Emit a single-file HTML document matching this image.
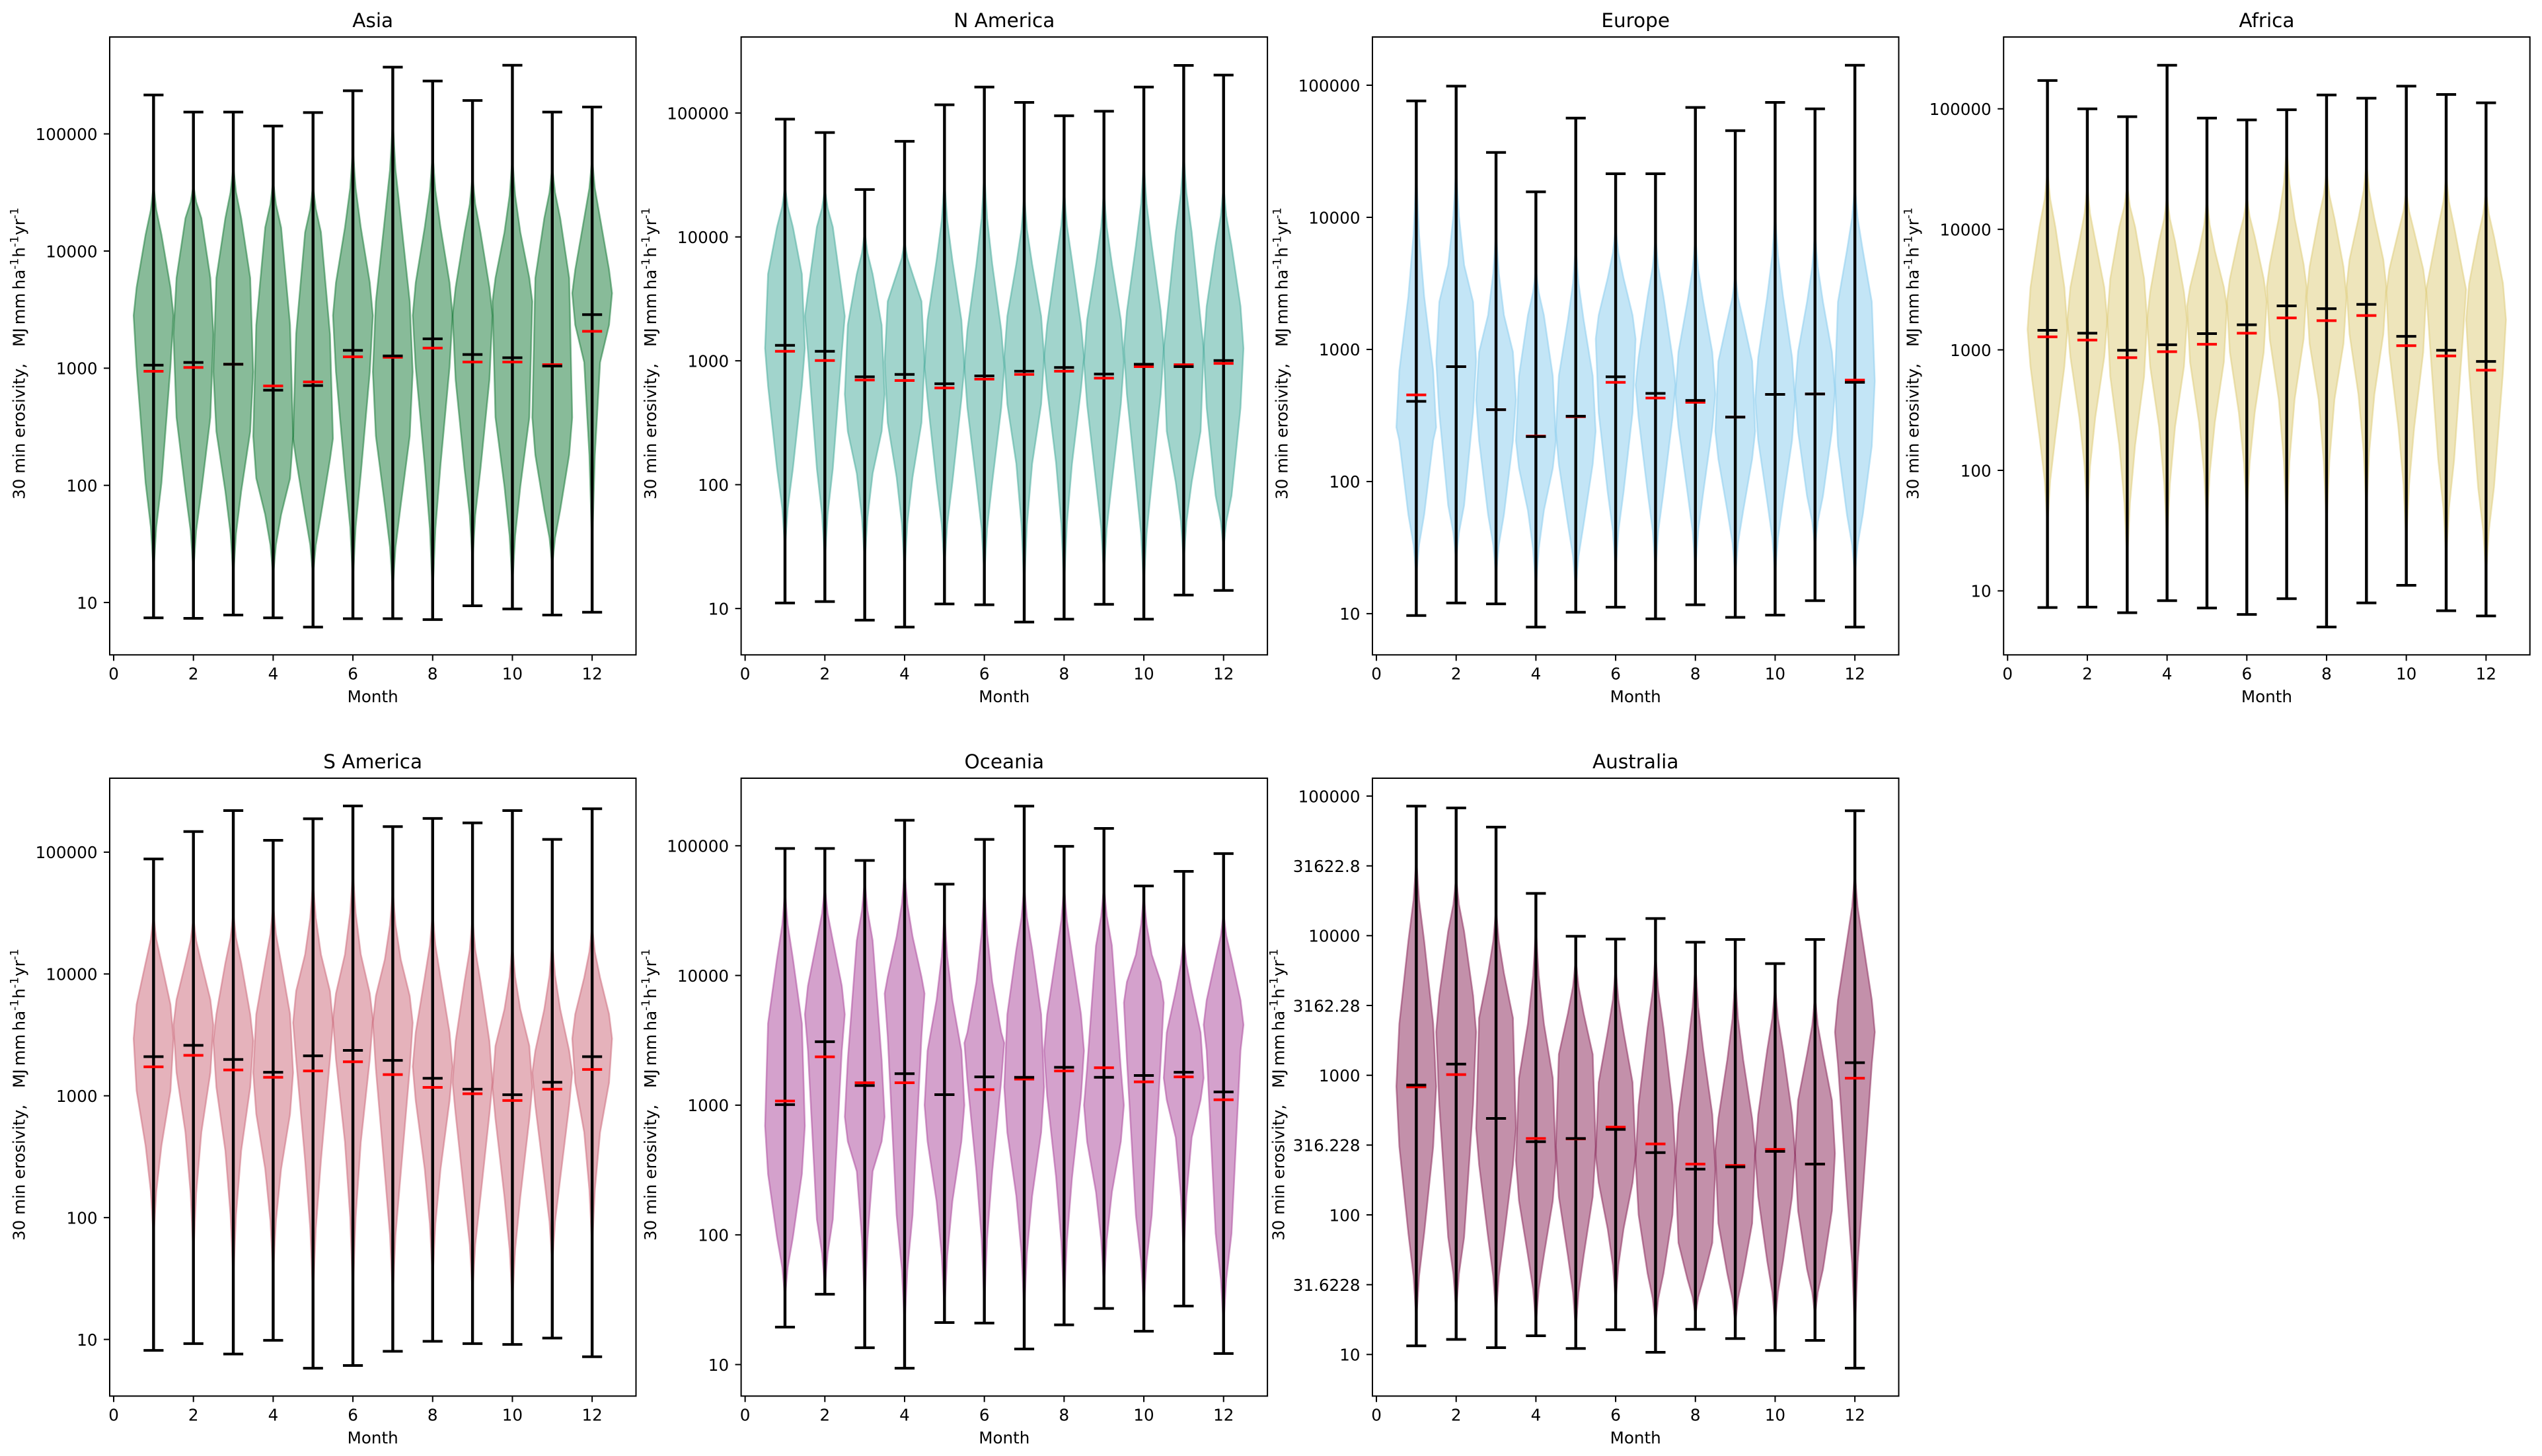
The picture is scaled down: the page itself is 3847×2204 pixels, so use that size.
<!DOCTYPE html>
<html lang="en">
<head>
<meta charset="utf-8">
<title>30 min erosivity by month and continent</title>
<style>
html,body{margin:0;padding:0;background:#fff;}
svg{display:block;}
text{font-family:"DejaVu Sans","Liberation Sans",sans-serif;fill:#000;}
.title{font-size:29.5px;text-anchor:middle;}
.xl{font-size:24.6px;text-anchor:middle;}
.yl{font-size:24.6px;}
.yl .s{font-size:17.2px;}
.tick{font-size:24.6px;}
</style>
</head>
<body>
<svg id="chart" xmlns="http://www.w3.org/2000/svg" width="3847" height="2204" viewBox="0 0 3847 2204">
<rect width="3847" height="2204" fill="#fff"/>

<g id="panel-asia">
<text class="title" x="564.2" y="41">Asia</text>
<text class="xl" x="564.2" y="1063">Month</text>
<text class="yl" transform="translate(37.5,756) rotate(-90)">30 min erosivity,<tspan dx="25">MJ</tspan><tspan dx="5">mm</tspan><tspan dx="5">ha</tspan><tspan class="s" dy="-10">-1</tspan><tspan dx="1" dy="10">h</tspan><tspan class="s" dy="-10">-1</tspan><tspan dx="1" dy="10">yr</tspan><tspan class="s" dy="-10">-1</tspan></text>
</g>
<g id="panel-namerica">
<text class="title" x="1519.8" y="41">N America</text>
<text class="xl" x="1519.8" y="1063">Month</text>
<text class="yl" transform="translate(993.1,756) rotate(-90)">30 min erosivity,<tspan dx="25">MJ</tspan><tspan dx="5">mm</tspan><tspan dx="5">ha</tspan><tspan class="s" dy="-10">-1</tspan><tspan dx="1" dy="10">h</tspan><tspan class="s" dy="-10">-1</tspan><tspan dx="1" dy="10">yr</tspan><tspan class="s" dy="-10">-1</tspan></text>
</g>
<g id="panel-europe">
<text class="title" x="2475.2" y="41">Europe</text>
<text class="xl" x="2475.2" y="1063">Month</text>
<text class="yl" transform="translate(1948.5,756) rotate(-90)">30 min erosivity,<tspan dx="25">MJ</tspan><tspan dx="5">mm</tspan><tspan dx="5">ha</tspan><tspan class="s" dy="-10">-1</tspan><tspan dx="1" dy="10">h</tspan><tspan class="s" dy="-10">-1</tspan><tspan dx="1" dy="10">yr</tspan><tspan class="s" dy="-10">-1</tspan></text>
</g>
<g id="panel-africa">
<text class="title" x="3430.4" y="41">Africa</text>
<text class="xl" x="3430.4" y="1063">Month</text>
<text class="yl" transform="translate(2903.7,756) rotate(-90)">30 min erosivity,<tspan dx="25">MJ</tspan><tspan dx="5">mm</tspan><tspan dx="5">ha</tspan><tspan class="s" dy="-10">-1</tspan><tspan dx="1" dy="10">h</tspan><tspan class="s" dy="-10">-1</tspan><tspan dx="1" dy="10">yr</tspan><tspan class="s" dy="-10">-1</tspan></text>
</g>
<g id="panel-samerica">
<text class="title" x="564.2" y="1163">S America</text>
<text class="xl" x="564.2" y="2185">Month</text>
<text class="yl" transform="translate(37.5,1878) rotate(-90)">30 min erosivity,<tspan dx="25">MJ</tspan><tspan dx="5">mm</tspan><tspan dx="5">ha</tspan><tspan class="s" dy="-10">-1</tspan><tspan dx="1" dy="10">h</tspan><tspan class="s" dy="-10">-1</tspan><tspan dx="1" dy="10">yr</tspan><tspan class="s" dy="-10">-1</tspan></text>
</g>
<g id="panel-oceania">
<text class="title" x="1519.8" y="1163">Oceania</text>
<text class="xl" x="1519.8" y="2185">Month</text>
<text class="yl" transform="translate(993.1,1878) rotate(-90)">30 min erosivity,<tspan dx="25">MJ</tspan><tspan dx="5">mm</tspan><tspan dx="5">ha</tspan><tspan class="s" dy="-10">-1</tspan><tspan dx="1" dy="10">h</tspan><tspan class="s" dy="-10">-1</tspan><tspan dx="1" dy="10">yr</tspan><tspan class="s" dy="-10">-1</tspan></text>
</g>
<g id="panel-australia">
<text class="title" x="2475.2" y="1163">Australia</text>
<text class="xl" x="2475.2" y="2185">Month</text>
<text class="yl" transform="translate(1943.5,1878) rotate(-90)">30 min erosivity,<tspan dx="25">MJ</tspan><tspan dx="5">mm</tspan><tspan dx="5">ha</tspan><tspan class="s" dy="-10">-1</tspan><tspan dx="1" dy="10">h</tspan><tspan class="s" dy="-10">-1</tspan><tspan dx="1" dy="10">yr</tspan><tspan class="s" dy="-10">-1</tspan></text>
</g>
</svg>

<script>
// All y data are log10(erosivity).
const months = [1,2,3,4,5,6,7,8,9,10,11,12];
const xTicks = [0,2,4,6,8,10,12];
const xTickLabels = ["0","2","4","6","8","10","12"];
const decadeTicks = [1,2,3,4,5];
const decadeLabels = ["10","100","1000","10000","100000"];
const halfDecadeTicks = [1,1.5,2,2.5,3,3.5,4,4.5,5];
const halfDecadeLabels = ["10","31.6228","100","316.228","1000","3162.28","10000","31622.8","100000"];
// Relative density reached at each of the seven shape knots of a violin.
const densityLevels = [0,0.4,0.85,1,0.85,0.4,0];

const asiaMax = [5.332,5.186,5.186,5.067,5.182,5.368,5.570,5.451,5.285,5.586,5.186,5.229];
const asiaMin = [0.869,0.865,0.893,0.869,0.790,0.862,0.862,0.854,0.972,0.945,0.893,0.917];
const asiaMean = [3.026,3.049,3.034,2.812,2.852,3.152,3.105,3.251,3.117,3.089,3.018,3.457];
const asiaMedian = [2.974,3.006,3.034,2.848,2.883,3.097,3.093,3.172,3.053,3.053,3.030,3.315];
const asiaShape = [
[4.56,4.14,3.69,3.45,3.01,2.02,1.27],[4.56,4.28,3.77,3.29,2.58,1.95,1.27],[4.72,4.28,3.77,2.97,2.46,1.95,1.23],
[4.60,4.20,3.37,2.42,2.06,1.75,1.23],[4.56,4.16,3.29,2.40,2.22,1.75,1.23],[4.87,4.20,3.73,3.45,2.97,2.10,1.19],
[5.11,4.28,3.57,2.97,2.42,1.83,1.11],[4.83,4.20,3.73,3.45,3.01,2.18,1.08],[4.64,4.16,3.69,3.45,2.90,2.14,1.35],
[4.79,4.16,3.77,3.57,2.58,1.99,1.15],[4.72,4.28,3.77,2.58,2.26,1.79,1.31],[4.79,4.28,3.84,3.64,3.37,3.05,1.47]];

const naMax = [4.951,4.843,4.383,4.772,5.067,5.210,5.086,4.978,5.015,5.210,5.385,5.307];
const naMin = [1.045,1.056,0.906,0.850,1.037,1.030,0.891,0.914,1.034,0.914,1.109,1.146];
const naMean = [3.125,3.077,2.871,2.890,2.815,2.878,2.916,2.946,2.893,2.972,2.953,3.002];
const naMedian = [3.077,3.002,2.845,2.841,2.781,2.852,2.890,2.916,2.860,2.953,2.968,2.979];
const naShape = [
[4.41,4.08,3.70,3.10,2.80,2.13,1.49],[4.39,4.08,3.55,3.36,3.07,2.13,1.38],[4.04,3.70,3.29,2.73,2.43,2.09,1.38],
[3.96,3.70,3.48,2.99,2.50,2.06,1.31],[4.45,3.81,3.33,2.95,2.69,2.02,1.34],[4.52,3.78,3.25,2.95,2.62,2.02,1.27],
[4.34,3.78,3.36,3.03,2.65,2.17,1.19],[4.38,3.81,3.29,3.03,2.77,2.17,1.19],[4.38,3.78,3.33,2.99,2.65,2.02,1.27],
[4.60,3.93,3.40,3.10,2.73,2.02,1.19],[4.67,4.04,3.33,3.10,2.43,2.02,1.38],[4.41,3.93,3.44,3.10,2.62,1.91,1.49]];

const euMax = [4.881,4.993,4.491,4.193,4.751,4.330,4.330,4.832,4.656,4.870,4.821,5.151];
const euMin = [0.986,1.081,1.074,0.898,1.011,1.049,0.961,1.067,0.972,0.989,1.098,0.898];
const euMean = [2.607,2.870,2.544,2.340,2.495,2.793,2.667,2.614,2.488,2.660,2.663,2.751];
const euMedian = [2.656,2.870,2.544,2.344,2.491,2.751,2.632,2.600,2.488,2.660,2.663,2.768];
const euShape = [
[4.34,3.40,2.84,2.41,2.31,1.75,1.29],[4.38,3.64,3.36,2.91,2.52,1.82,1.40],[3.89,3.26,2.98,2.62,2.31,1.75,1.29],
[3.61,3.26,2.80,2.31,2.10,1.78,1.19],[3.78,3.22,2.80,2.38,2.13,1.68,1.19],[3.92,3.54,3.26,3.08,2.52,1.92,1.33],
[3.85,3.40,2.94,2.73,2.48,1.92,1.33],[3.85,3.36,2.98,2.66,2.41,1.92,1.33],[3.57,3.22,2.91,2.38,2.17,1.78,1.29],
[4.03,3.40,2.94,2.62,2.31,1.85,1.29],[3.89,3.36,2.98,2.69,2.38,1.89,1.50],[4.24,3.75,3.36,2.76,2.27,1.75,1.29]];

const afMax = [5.235,5.000,4.935,5.362,4.923,4.908,4.992,5.115,5.088,5.188,5.119,5.050];
const afMin = [0.862,0.865,0.819,0.919,0.858,0.804,0.935,0.700,0.900,1.046,0.835,0.792];
const afMean = [3.162,3.138,2.996,3.042,3.135,3.208,3.365,3.342,3.377,3.112,2.996,2.904];
const afMedian = [3.108,3.081,2.935,2.985,3.046,3.138,3.265,3.242,3.285,3.035,2.950,2.831];
const afShape = [
[4.48,4.02,3.52,3.17,2.86,2.28,1.55],[4.36,3.90,3.52,3.25,2.94,2.44,1.63],[4.36,4.02,3.59,3.25,2.78,2.21,1.25],
[4.28,3.90,3.48,3.25,2.86,2.36,1.40],[4.25,3.82,3.52,3.36,2.90,2.40,1.55],[4.28,3.94,3.59,3.40,2.98,2.48,1.63],
[4.67,4.09,3.71,3.52,3.09,2.59,1.55],[4.48,4.09,3.69,3.44,3.05,2.59,1.55],[4.55,4.09,3.75,3.52,3.13,2.63,1.67],
[4.32,3.98,3.67,3.48,2.98,2.36,1.40],[4.44,4.02,3.63,3.50,3.13,2.09,1.28],[4.32,3.94,3.55,3.25,2.82,1.86,1.13]];

const saMax = [4.944,5.169,5.341,5.097,5.274,5.379,5.210,5.277,5.240,5.341,5.105,5.356];
const saMin = [0.910,0.966,0.880,0.993,0.764,0.786,0.903,0.985,0.966,0.959,1.011,0.858];
const saMean = [3.321,3.414,3.298,3.193,3.328,3.373,3.291,3.144,3.054,3.009,3.111,3.321];
const saMedian = [3.238,3.332,3.212,3.152,3.204,3.279,3.174,3.069,3.017,2.961,3.054,3.216];
const saShape = [
[4.48,4.09,3.75,3.47,3.04,2.59,1.84],[4.46,4.09,3.79,3.58,3.19,2.70,1.69],[4.50,4.09,3.67,3.45,3.07,2.55,1.50],
[4.57,4.09,3.67,3.19,2.85,2.40,1.54],[4.76,4.16,3.86,3.60,3.30,2.47,1.35],[4.84,4.16,3.84,3.63,3.30,2.62,1.39],
[4.69,4.12,3.82,3.60,3.22,2.36,1.35],[4.50,3.97,3.52,3.24,2.96,2.40,1.50],[4.46,3.94,3.45,3.11,2.85,2.17,1.39],
[4.24,3.71,3.41,3.07,2.81,2.17,1.31],[4.27,3.71,3.37,3.19,2.92,2.32,1.61],[4.39,3.97,3.67,3.47,3.11,2.70,1.76]];

const ocMax = [4.979,4.979,4.887,5.197,4.704,5.049,5.306,4.996,5.134,4.690,4.803,4.940];
const ocMin = [1.289,1.542,1.130,0.972,1.324,1.320,1.120,1.306,1.433,1.257,1.451,1.085];
const ocMean = [3.004,3.489,3.151,3.243,3.081,3.218,3.215,3.292,3.215,3.229,3.254,3.102];
const ocMedian = [3.032,3.373,3.173,3.173,3.081,3.120,3.201,3.264,3.289,3.180,3.218,3.042];
const ocShape = [
[4.65,4.13,3.63,2.84,2.47,1.98,1.52],[4.69,4.27,3.92,3.70,3.42,2.12,1.59],[4.73,4.27,3.35,2.91,2.72,2.49,1.45],
[4.80,4.30,3.99,3.86,3.53,2.15,1.31],[4.48,3.81,3.42,3.00,2.72,2.26,1.42],[4.69,3.95,3.56,3.48,3.19,2.49,1.45],
[4.69,4.20,3.70,3.14,2.79,2.30,1.42],[4.69,4.16,3.70,3.42,3.07,2.44,1.45],[4.69,4.23,3.28,3.00,2.72,2.33,1.59],
[4.62,4.16,3.95,3.79,3.35,2.15,1.45],[4.30,3.88,3.56,3.21,3.04,2.75,1.84],[4.48,4.13,3.81,3.62,3.42,2.01,1.31]];

const auMax = [4.928,4.915,4.778,4.303,3.996,3.976,4.123,3.953,3.973,3.800,3.973,4.895];
const auMin = [1.062,1.108,1.049,1.134,1.043,1.177,1.016,1.180,1.114,1.029,1.101,0.902];
const auMean = [2.930,3.080,2.691,2.524,2.547,2.612,2.446,2.328,2.344,2.455,2.364,3.090];
const auMedian = [2.917,3.005,2.691,2.547,2.544,2.629,2.508,2.364,2.354,2.469,2.364,2.979];
const auShape = [
[4.55,3.96,3.37,2.92,2.49,1.87,1.25],[4.42,4.03,3.57,3.31,2.79,1.84,1.31],[4.19,3.73,3.41,2.62,2.36,1.84,1.28],
[4.06,3.37,2.98,2.39,2.10,1.71,1.22],[3.83,3.44,3.15,2.49,2.13,1.71,1.18],[3.77,3.31,2.95,2.43,2.23,1.90,1.38],
[3.87,3.34,2.79,2.39,2.00,1.58,1.22],[3.80,3.18,2.72,2.33,1.80,1.54,1.28],[3.70,3.11,2.69,2.46,1.94,1.58,1.22],
[3.64,3.18,2.72,2.43,2.13,1.67,1.22],[3.57,3.15,2.82,2.44,2.03,1.61,1.28],[4.45,3.96,3.54,3.31,3.08,2.16,1.15]];

const NS = 'http://www.w3.org/2000/svg';
const PLOT_W = 796.5, PLOT_H = 935.3;
const X_LOW = -0.1, X_HIGH = 13.1;
// The tails of a kernel density are concave: the midpoint of a tail sits below the straight line.
const TAIL_MID_FACTOR = 0.35;

const panels = [
 {id:'panel-asia',left:166,top:56,lo:0.553,hi:5.827,color:'#117733',max:asiaMax,min:asiaMin,mean:asiaMean,median:asiaMedian,shape:asiaShape,ticks:decadeTicks,labels:decadeLabels},
 {id:'panel-namerica',left:1121.6,top:56,lo:0.626,hi:5.614,color:'#44AA99',max:naMax,min:naMin,mean:naMean,median:naMedian,shape:naShape,ticks:decadeTicks,labels:decadeLabels},
 {id:'panel-europe',left:2077,top:56,lo:0.688,hi:5.365,color:'#88CCEE',max:euMax,min:euMin,mean:euMean,median:euMedian,shape:euShape,ticks:decadeTicks,labels:decadeLabels},
 {id:'panel-africa',left:3032.2,top:56,lo:0.469,hi:5.596,color:'#DDCC77',max:afMax,min:afMin,mean:afMean,median:afMedian,shape:afShape,ticks:decadeTicks,labels:decadeLabels},
 {id:'panel-samerica',left:166,top:1178,lo:0.535,hi:5.607,color:'#CC6677',max:saMax,min:saMin,mean:saMean,median:saMedian,shape:saShape,ticks:decadeTicks,labels:decadeLabels},
 {id:'panel-oceania',left:1121.6,top:1178,lo:0.757,hi:5.521,color:'#AA4499',max:ocMax,min:ocMin,mean:ocMean,median:ocMedian,shape:ocShape,ticks:decadeTicks,labels:decadeLabels},
 {id:'panel-australia',left:2077,top:1178,lo:0.702,hi:5.128,color:'#882255',max:auMax,min:auMin,mean:auMean,median:auMedian,shape:auShape,ticks:halfDecadeTicks,labels:halfDecadeLabels}
];

function make(tag, parent, props) {
  const node = document.createElementNS(NS, tag);
  for (const key in props) node.setAttribute(key, props[key]);
  parent.appendChild(node);
  return node;
}

// Expands seven knots into an outline profile of [logValue, density] pairs with concave tails.
function violinProfile(knots) {
  const profile = [];
  knots.forEach(function (v, k) {
    profile.push([v, densityLevels[k]]);
    if (k === 0) profile.push([(v + knots[1]) / 2, densityLevels[1] * TAIL_MID_FACTOR]);
    if (k === knots.length - 2) profile.push([(v + knots[k + 1]) / 2, densityLevels[k] * TAIL_MID_FACTOR]);
  });
  return profile;
}

function drawPanel(p) {
  const g = document.getElementById(p.id);
  const x = function (month) { return p.left + (month - X_LOW) / (X_HIGH - X_LOW) * PLOT_W; };
  const y = function (logValue) { return p.top + PLOT_H - (logValue - p.lo) / (p.hi - p.lo) * PLOT_H; };

  months.forEach(function (month, i) {
    const profile = violinProfile(p.shape[i]);
    const right = profile.map(function (d) { return x(month + d[1] * 0.5).toFixed(1) + ',' + y(d[0]).toFixed(1); });
    const left = profile.map(function (d) { return x(month - d[1] * 0.5).toFixed(1) + ',' + y(d[0]).toFixed(1); }).reverse();
    const body = make('polygon', g, {points: right.concat(left).join(' '), fill: p.color, 'fill-opacity': 0.5, stroke: p.color, 'stroke-opacity': 0.5, 'stroke-width': 2.5});
    
    
  });

  months.forEach(function (month, i) {
    const whisker = make('line', g, {x1: x(month), x2: x(month), y1: y(p.min[i]), y2: y(p.max[i]), stroke: '#000', 'stroke-width': 4.4});
    
    

    const maxCap = make('line', g, {x1: x(month - 0.25), x2: x(month + 0.25), y1: y(p.max[i]), y2: y(p.max[i]), stroke: '#000', 'stroke-width': 4});
    
    

    const minCap = make('line', g, {x1: x(month - 0.25), x2: x(month + 0.25), y1: y(p.min[i]), y2: y(p.min[i]), stroke: '#000', 'stroke-width': 4});
    
    

    const medianBar = make('line', g, {x1: x(month - 0.25), x2: x(month + 0.25), y1: y(p.median[i]), y2: y(p.median[i]), stroke: '#ff0000', 'stroke-width': 4});
    
    

    const meanBar = make('line', g, {x1: x(month - 0.25), x2: x(month + 0.25), y1: y(p.mean[i]), y2: y(p.mean[i]), stroke: '#000', 'stroke-width': 4});
    
    
  });

  const frame = make('rect', g, {x: p.left, y: p.top, width: PLOT_W, height: PLOT_H, fill: 'none', stroke: '#000', 'stroke-width': 2});
  
  

  xTicks.forEach(function (t, i) {
    const mark = make('line', g, {x1: x(t), x2: x(t), y1: p.top + PLOT_H, y2: p.top + PLOT_H + 9, stroke: '#000', 'stroke-width': 2});
    
    
    const label = make('text', g, {class: 'tick', x: x(t), y: p.top + PLOT_H + 37, 'text-anchor': 'middle'});
    
    
    label.textContent = xTickLabels[i];
  });

  p.ticks.forEach(function (t, i) {
    const mark = make('line', g, {x1: p.left - 9, x2: p.left, y1: y(t), y2: y(t), stroke: '#000', 'stroke-width': 2});
    
    
    const label = make('text', g, {class: 'tick', x: p.left - 18.5, y: y(t) + 9.3, 'text-anchor': 'end'});
    
    
    label.textContent = p.labels[i];
  });
}

panels.forEach(drawPanel);
</script>
</body>
</html>
